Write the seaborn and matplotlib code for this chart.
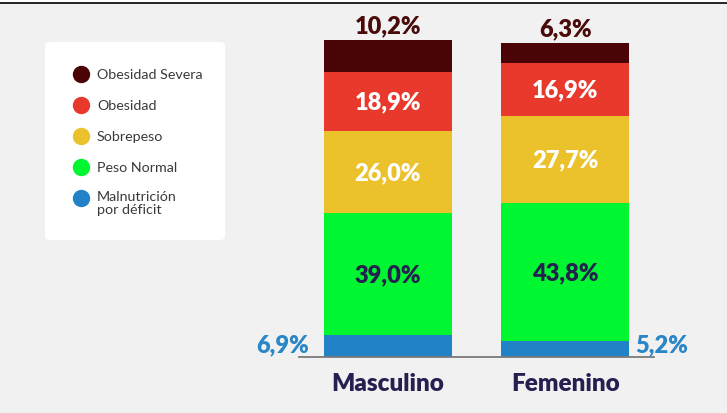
import matplotlib
matplotlib.use("Agg")
import matplotlib.pyplot as plt
import seaborn as sns
import pandas as pd
import numpy as np
from matplotlib.patches import FancyBboxPatch, Rectangle
from matplotlib.lines import Line2D

# Data (percentages, bottom to top)
generos = ["Masculino", "Femenino"]
categorias = ["Malnutrición\npor déficit", "Peso Normal", "Sobrepeso", "Obesidad", "Obesidad Severa"]
malnutricion = [6.9, 5.2]
peso_normal = [39.0, 43.8]
sobrepeso = [26.0, 27.7]
obesidad = [18.9, 16.9]
obesidad_severa = [10.2, 6.3]

colores = ["#2282c7", "#00f630", "#ebc22c", "#e8392c", "#4a0405"]
series = [malnutricion, peso_normal, sobrepeso, obesidad, obesidad_severa]

W, H = 727, 414
fig = plt.figure(figsize=(W / 100, H / 100), dpi=100)
fig.patch.set_facecolor("#f1f1f1")
font = "Lato"

def fx(px):
    return px / W

def fy(py):
    return 1 - py / H

# white strip + black rule at the top
fig.add_artist(Rectangle((0, fy(4)), 1, 4 / H, transform=fig.transFigure, color="white", lw=0))
fig.add_artist(Line2D([0, 1], [fy(4), fy(4)], transform=fig.transFigure, color="black", lw=1.2))

ax = fig.add_axes([fx(299), fy(358), fx(654) - fx(299), fy(41) - fy(358)])
ax.set_facecolor("#f1f1f1")

# stacked bars: draw cumulative totals from the top down
cum = np.cumsum(np.array(series), axis=0)
for i in range(len(series) - 1, -1, -1):
    df = pd.DataFrame({"genero": generos, "valor": cum[i]})
    sns.barplot(data=df, x="genero", y="valor", color=colores[i], width=0.72,
                saturation=1, linewidth=0, ax=ax)

ax.set_xlim(-0.5, 1.5)
ax.set_ylim(0, 101)
for s in ["top", "right", "left"]:
    ax.spines[s].set_visible(False)
ax.spines["bottom"].set_color("#7a7a7a")
ax.spines["bottom"].set_linewidth(1.3)
ax.set_yticks([])
ax.set_xlabel("")
ax.set_ylabel("")
ax.tick_params(axis="x", length=0, pad=11)
ax.set_xticks(range(len(generos)))
ax.set_xticklabels(generos, fontsize=17.5, fontweight="heavy", color="#25204f", family=font)

def fmt(v):
    return f"{v:.1f}%".replace(".", ",")

lbl = dict(fontsize=17, fontweight="heavy", family=font)

for j in range(len(generos)):
    # inner labels
    for i, col in [(1, "#25204f"), (2, "white"), (3, "white")]:
        centro = cum[i][j] - series[i][j] / 2
        ax.text(j, centro, fmt(series[i][j]), ha="center", va="center", color=col, **lbl)
    # top label
    ax.text(j, cum[4][j] + 1.2, fmt(obesidad_severa[j]), ha="center", va="bottom",
            color="#4a0a0a", clip_on=False, **lbl)

ax.text(-0.445, 4.0, fmt(malnutricion[0]), ha="right", va="center",
        color="#2a86c6", clip_on=False, **lbl)
ax.text(1.393, 4.0, fmt(malnutricion[1]), ha="left", va="center",
        color="#2a86c6", clip_on=False, **lbl)

# legend box
fig.add_artist(FancyBboxPatch((fx(45), fy(241)), fx(225) - fx(45), fy(43) - fy(241),
                              boxstyle="round,pad=0,rounding_size=0.008",
                              transform=fig.transFigure, facecolor="white", edgecolor="none"))
filas = [75, 105.7, 136.7, 167.7, 199]
orden = [4, 3, 2, 1, 0]
for yy, i in zip(filas, orden):
    fig.add_artist(Line2D([fx(80.7)], [fy(yy)], transform=fig.transFigure, marker="o",
                          markersize=11.5, color=colores[i], lw=0))
    if "\n" in categorias[i]:
        fig.text(fx(97), fy(yy - 8), categorias[i], ha="left", va="top", fontsize=10.3,
                 color="#3a3a3a", family=font, linespacing=1.15)
    else:
        fig.text(fx(97), fy(yy), categorias[i], ha="left", va="center", fontsize=10.3,
                 color="#3a3a3a", family=font)

fig.savefig("out.png", dpi=100, facecolor=fig.get_facecolor())
